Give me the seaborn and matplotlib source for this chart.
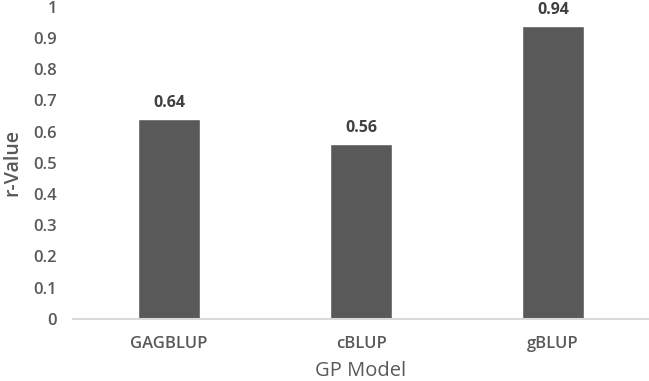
import matplotlib
matplotlib.use("Agg")
import matplotlib.pyplot as plt
import seaborn as sns
import pandas as pd

models = ["GAGBLUP", "cBLUP", "gBLUP"]
r_values = [0.64, 0.56, 0.94]
y_ticks = [0, 0.1, 0.2, 0.3, 0.4, 0.5, 0.6, 0.7, 0.8, 0.9, 1]
y_tick_labels = ["0", "0.1", "0.2", "0.3", "0.4", "0.5", "0.6", "0.7", "0.8", "0.9", "1"]

sns.set_style("white")
plt.rcParams['font.family'] = ['Open Sans', 'DejaVu Sans']

df = pd.DataFrame({"model": models, "r": r_values})

fig = plt.figure(figsize=(6.49, 3.81), dpi=100)
ax = fig.add_axes([0.1125, 0.163, 0.8875, 0.819])
sns.barplot(data=df, x="model", y="r", color="#595959", width=0.32, ax=ax, saturation=1)

ax.set_ylim(0, 1)
ax.set_xlim(-0.5, 2.5)
ax.set_yticks(y_ticks)
ax.set_yticklabels(y_tick_labels)
ax.tick_params(axis='both', length=0, colors="#595959")
ax.tick_params(axis='y', pad=11.5, labelsize=12)
ax.tick_params(axis='x', pad=12, labelsize=12)
for lbl in ax.get_yticklabels() + ax.get_xticklabels():
    lbl.set_fontweight("semibold")

for s in ["top", "right", "left"]:
    ax.spines[s].set_visible(False)
ax.spines["bottom"].set_color("#d9d9d9")
ax.spines["bottom"].set_linewidth(1.5)

for i, v in enumerate(r_values):
    ax.text(i, v + 0.025, f"{v:.2f}", ha="center", va="bottom", fontsize=11.5,
            fontweight="bold", color="#404040")

ax.set_xlabel("GP Model", fontsize=14.5, color="#595959", labelpad=7)
ax.set_ylabel("r-Value", fontsize=14, color="#595959", fontweight="semibold", labelpad=8)

fig.savefig("out.png", dpi=100)
